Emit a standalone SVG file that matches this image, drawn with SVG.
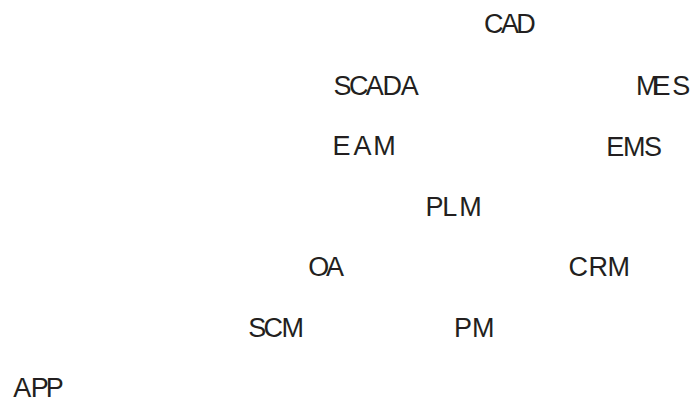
<svg xmlns="http://www.w3.org/2000/svg" width="696" height="404" viewBox="0 0 696 404">
<style>
text{font-family:"Liberation Sans",Arial,sans-serif;font-size:27px;fill:#231f20}
</style>
<rect width="696" height="404" fill="#ffffff"/>
<g id="cad"><text x="484.1 501 516.2" y="33.3">CAD</text></g>
<g id="scada"><text x="333.6 348.9 365.7 382.4 400.7" y="94.5">SCADA</text></g>
<g id="mes"><text x="635.9 652.4 672.3" y="95">MES</text></g>
<g id="eam"><text x="332.4 353.5 373.3" y="155">EAM</text></g>
<g id="ems"><text x="606.2 623 644.1" y="155.5">EMS</text></g>
<g id="plm"><text x="425.5 442.2 459.3" y="216">PLM</text></g>
<g id="oa"><text x="308.3 326" y="276">OA</text></g>
<g id="crm"><text x="568.5 588.4 607.6" y="276">CRM</text></g>
<g id="scm"><text x="248.3 263.6 281.6" y="337">SCM</text></g>
<g id="pm"><text x="454 472.1" y="337">PM</text></g>
<g id="app"><text x="13.2 30.7 45.7" y="397">APP</text></g>
<g id="connectors"></g>
</svg>
